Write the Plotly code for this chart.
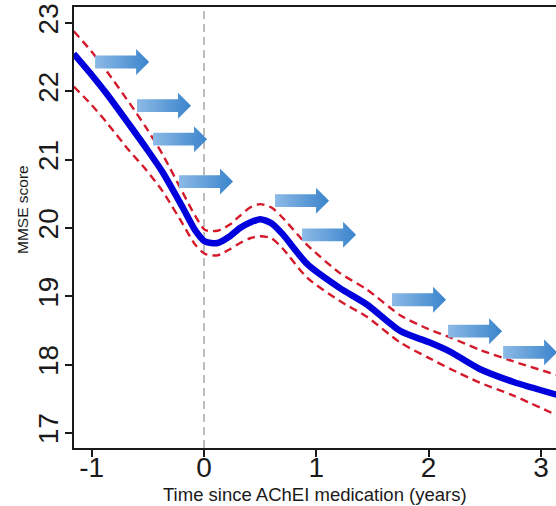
import plotly.graph_objects as go

# ---------------- data ----------------
time_years = [-1.16, -1.0, -0.86, -0.66, -0.52, -0.37, -0.19, -0.08, 0.01, 0.12, 0.23, 0.32,
              0.41, 0.5, 0.6, 0.7, 0.92, 1.21, 1.45, 1.75, 2.0, 2.19, 2.45, 2.75, 3.14]
mmse_fit = [22.55, 22.24, 21.95, 21.5, 21.18, 20.82, 20.3, 19.97, 19.8, 19.78, 19.88, 20.0,
            20.08, 20.13, 20.07, 19.91, 19.47, 19.12, 18.88, 18.49, 18.33, 18.19, 17.94, 17.75, 17.56]
mmse_upper = [22.88, 22.58, 22.28, 21.82, 21.48, 21.08, 20.52, 20.18, 19.97, 19.96, 20.05, 20.18,
              20.3, 20.35, 20.3, 20.15, 19.75, 19.34, 19.1, 18.72, 18.52, 18.4, 18.22, 18.05, 17.85]
mmse_lower = [22.07, 21.8, 21.53, 21.12, 20.86, 20.54, 20.06, 19.76, 19.62, 19.6, 19.69, 19.78,
              19.85, 19.88, 19.85, 19.7, 19.27, 18.93, 18.7, 18.32, 18.1, 17.94, 17.74, 17.55, 17.26]

arrow_start_x = [-0.97, -0.597, -0.454, -0.223, 0.632, 0.873, 1.674, 2.173, 2.663]
arrow_y = [22.43, 21.79, 21.30, 20.68, 20.40, 19.90, 18.95, 18.49, 18.18]

x_ticks = [-1, 0, 1, 2, 3]
y_ticks = [17, 18, 19, 20, 21, 22, 23]
x_title = "Time since AChEI medication (years)"
y_title = "MMSE score"

# ---------------- layout constants ----------------
W, H = 556, 506
MARGIN = dict(l=74, r=0, t=7, b=58)
X_RANGE = [-1.158, 3.134]
Y_RANGE = [16.78, 23.235]
plot_w = W - MARGIN["l"] - MARGIN["r"]
plot_h = H - MARGIN["t"] - MARGIN["b"]
ux = (X_RANGE[1] - X_RANGE[0]) / plot_w   # data units per pixel (x)
uy = (Y_RANGE[1] - Y_RANGE[0]) / plot_h   # data units per pixel (y)

BODY_LEN, BODY_HALF, HEAD_LEN, HEAD_HALF = 41, 6.4, 13, 13
FONT = "Liberation Sans, Arial, sans-serif"

fig = go.Figure()

# confidence band (dashed red)
for ys in (mmse_upper, mmse_lower):
    fig.add_trace(go.Scatter(
        x=time_years, y=ys, mode="lines",
        line=dict(color="#D41A2A", width=2.4, dash="8px,5px", shape="spline", smoothing=0.7),
        hoverinfo="skip", showlegend=False))

# fitted curve (thick blue)
fig.add_trace(go.Scatter(
    x=time_years, y=mmse_fit, mode="lines",
    line=dict(color="#0000DC", width=6.5, shape="spline", smoothing=0.7),
    hoverinfo="skip", showlegend=False))

# block arrows with horizontal gradient
for x0, y0 in zip(arrow_start_x, arrow_y):
    xb = x0 + BODY_LEN * ux
    xt = x0 + (BODY_LEN + HEAD_LEN) * ux
    xs = [x0, xb, xb, xt, xb, xb, x0, x0]
    ys = [y0 + BODY_HALF * uy, y0 + BODY_HALF * uy, y0 + HEAD_HALF * uy, y0,
          y0 - HEAD_HALF * uy, y0 - BODY_HALF * uy, y0 - BODY_HALF * uy, y0 + BODY_HALF * uy]
    fig.add_trace(go.Scatter(
        x=xs, y=ys, mode="lines", fill="toself",
        line=dict(width=0, color="rgba(0,0,0,0)"),
        fillgradient=dict(type="horizontal",
                          colorscale=[[0, "#8CBAE6"], [1, "#3A84CC"]]),
        hoverinfo="skip", showlegend=False))

# vertical reference line at time 0
fig.add_shape(type="line", xref="x", yref="paper", x0=0, x1=0, y0=0, y1=1,
              line=dict(color="#A8A8A8", width=1.5, dash="8px,5px"), layer="below")

# axis titles (as annotations for exact placement)
fig.add_annotation(text=x_title, xref="paper", yref="paper", x=0.5, y=(448 - 494) / plot_h,
                   xanchor="center", yanchor="middle", showarrow=False,
                   font=dict(size=18.5, family=FONT, color="#1a1a1a"))
fig.add_annotation(text=y_title, xref="paper", yref="paper", x=(22 - 74) / plot_w,
                   y=(448 - 210) / plot_h, xanchor="center", yanchor="middle",
                   textangle=-90, showarrow=False,
                   font=dict(size=15.5, family=FONT, color="#1a1a1a"))

fig.update_layout(
    width=W, height=H, margin=MARGIN, autosize=False,
    plot_bgcolor="white", paper_bgcolor="white",
    font=dict(family=FONT, color="#1a1a1a"),
    xaxis=dict(range=X_RANGE, tickvals=x_ticks, ticktext=[str(v) for v in x_ticks],
               showgrid=False, zeroline=False, showline=True, linecolor="#1a1a1a",
               linewidth=1.8, mirror=True, ticks="outside", ticklen=7, tickwidth=1.5,
               tickcolor="#1a1a1a", tickfont=dict(size=28, family=FONT),
               ticklabelstandoff=-14, automargin=False),
    yaxis=dict(range=Y_RANGE, tickvals=y_ticks, ticktext=[str(v) for v in y_ticks],
               showgrid=False, zeroline=False, showline=True, linecolor="#1a1a1a",
               linewidth=1.8, ticks="outside", ticklen=7, tickwidth=1.5,
               tickcolor="#1a1a1a", tickangle=-90, tickfont=dict(size=28, family=FONT),
               ticklabelstandoff=-4, automargin=False),
)

fig.write_html("out.html", config={"displayModeBar": False},
               post_script="document.body.style.margin='0';document.body.style.overflow='hidden';")
